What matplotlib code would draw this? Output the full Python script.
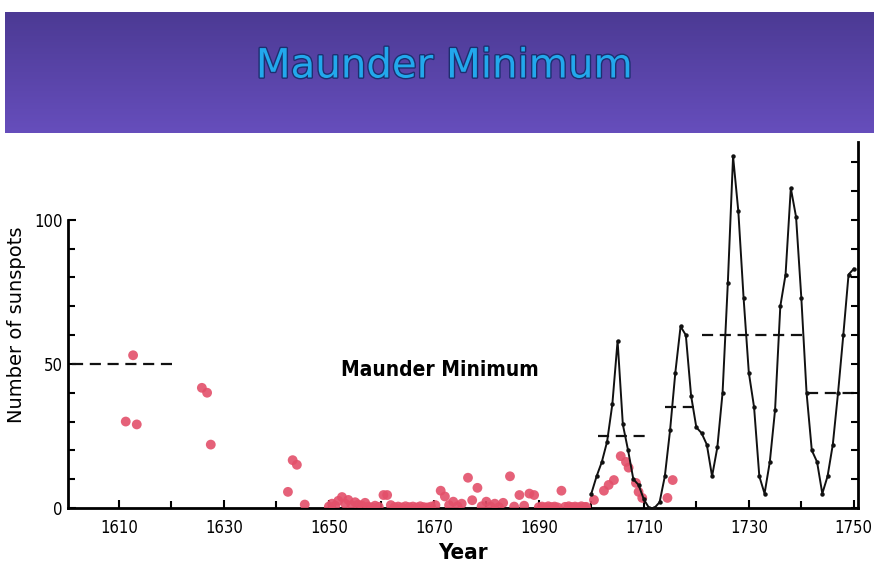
import numpy as np
import matplotlib
matplotlib.use('Agg')
import matplotlib.pyplot as plt
import matplotlib.patheffects as pe

# group sunspot numbers (red dots)
gsn_years = [1611.3, 1612.7, 1613.4, 1625.8, 1626.8, 1627.5, 1642.2, 1643.1, 1643.9, 1645.4,
             1650.0, 1650.6, 1651.2, 1651.8, 1652.5, 1653.1, 1653.7, 1654.3, 1655.0, 1655.6,
             1656.3, 1656.9, 1657.5, 1658.2, 1658.8, 1659.5, 1660.4, 1661.1, 1661.8, 1662.5,
             1663.2, 1663.9, 1664.6, 1665.3, 1666.0, 1666.7, 1667.4, 1668.1, 1668.8, 1669.5,
             1670.3, 1671.3, 1672.1, 1672.9, 1673.7, 1674.5, 1675.3, 1676.5, 1677.3, 1678.3,
             1679.1, 1680.0, 1680.8, 1681.6, 1682.4, 1683.2, 1684.5, 1685.3, 1686.3, 1687.2,
             1688.2, 1689.1, 1690.0, 1690.6, 1691.2, 1691.8, 1692.4, 1693.0, 1693.6, 1694.3,
             1695.0, 1695.7, 1696.3, 1696.9, 1697.5, 1698.1, 1698.7, 1699.0, 1700.5, 1702.4,
             1703.3, 1704.3, 1705.6, 1706.6, 1707.1, 1708.5, 1709.0, 1709.7, 1714.5, 1715.5]
gsn_values = [30, 53, 29, 41.7, 40, 22, 5.6, 16.6, 15, 1.2,
              0.5, 1.5, 0.8, 2.5, 3.8, 1.5, 2.8, 1.0, 2.0, 1.2,
              0.8, 1.8, 0.5, 0.2, 0.8, 0.4, 4.5, 4.5, 1.0, 0.3,
              0.5, 0.2, 0.6, 0.3, 0.5, 0.2, 0.6, 0.3, 0.2, 0.5,
              1.0, 6.0, 4.0, 1.0, 2.2, 0.6, 1.5, 10.5, 2.7, 7.0,
              0.6, 2.2, 0.5, 1.5, 0.3, 1.8, 11.0, 0.5, 4.5, 0.8,
              5.0, 4.5, 0.3, 0.5, 0.2, 0.6, 0.3, 0.5, 0.2, 6.0,
              0.4, 0.6, 0.3, 0.5, 0.2, 0.6, 0.3, 0.4, 2.8, 6.0,
              8.0, 9.7, 18.0, 16.0, 14.0, 8.7, 5.6, 3.5, 3.5, 9.7]

# annual sunspot numbers (black line)
wolf_years = list(range(1700, 1751))
wolf_values = [5, 11, 16, 23, 36, 58, 29, 20, 10, 8,
               3, 0, 0, 2, 11, 27, 47, 63, 60, 39,
               28, 26, 22, 11, 21, 40, 78, 122, 103, 73,
               47, 35, 11, 5, 16, 34, 70, 81, 111, 101,
               73, 40, 20, 16, 5, 11, 22, 40, 60, 81, 83]

# cycle averages (dashed segments)
avg_start = [1601.0, 1701.2, 1714.0, 1721.0, 1741.0]
avg_end = [1620.7, 1710.8, 1720.0, 1741.0, 1750.5]
avg_value = [50, 25, 35, 60, 40]

xtick_labels = [1610, 1630, 1650, 1670, 1690, 1710, 1730, 1750]
ytick_labels = [0, 50, 100]

narrow = dict(family='DejaVu Sans', fontstretch='condensed')

fig = plt.figure(figsize=(8.74, 5.85), dpi=100)

# banner
bax = fig.add_axes([5 / 874, 1 - 133 / 585, 1 - 5 / 874, 121 / 585])
grad = np.linspace(0, 1, 100).reshape(-1, 1)
top_col = np.array([0x4c, 0x3a, 0x94]) / 255
bot_col = np.array([0x66, 0x4e, 0xbc]) / 255
img = top_col + (bot_col - top_col) * grad[:, :, None]
bax.imshow(img, aspect='auto', extent=[0, 1, 0, 1], origin='upper')
bax.set_xlim(0, 1)
bax.set_ylim(0, 1)
bax.axis('off')
bax.text(0.505, 0.55, 'Maunder Minimum', ha='center', va='center', fontsize=29,
         color='#22a8ec', family='DejaVu Sans',
         path_effects=[pe.withStroke(linewidth=2.0, foreground='#1d2f70')])

# chart
ax = fig.add_axes([68 / 874, 77 / 585, 790 / 874, 366 / 585])
ax.scatter(gsn_years, gsn_values, s=50, color='#e3506a', edgecolors='none', alpha=0.9, zorder=3)
ax.plot(wolf_years, wolf_values, color='#111111', lw=1.4, marker='o', ms=2.2, zorder=4)
for x0, x1, v in zip(avg_start, avg_end, avg_value):
    ax.plot([x0, x1], [v, v], color='#111111', lw=1.6, ls=(0, (5, 3)), zorder=4)

ax.set_xlim(1600.3, 1750.8)
ax.set_ylim(0, 127)
ax.spines['top'].set_visible(False)
ax.spines['right'].set_visible(False)
ax.spines['left'].set_bounds(0, 100)
for s in ['left', 'bottom']:
    ax.spines[s].set_linewidth(2.0)
ax.set_xticks(np.arange(1610, 1751, 10), minor=True)
ax.set_xticks(xtick_labels)
ax.set_xticklabels([str(v) for v in xtick_labels], fontsize=12, **narrow)
ax.set_yticks(np.arange(0, 101, 10), minor=True)
ax.set_yticks(ytick_labels)
ax.set_yticklabels([str(v) for v in ytick_labels], fontsize=12, **narrow)
ax.tick_params(which='both', direction='in', width=1.5)
ax.tick_params(which='major', length=6)
ax.tick_params(which='minor', length=5)
ax.tick_params(axis='x', pad=8)
ax.tick_params(axis='y', pad=4)

# right spine goes to the top with ticks every 10
ax_r = ax.twinx()
ax_r.set_ylim(ax.get_ylim())
for s in ['top', 'left', 'bottom']:
    ax_r.spines[s].set_visible(False)
ax_r.spines['right'].set_linewidth(2.0)
ax_r.set_yticks(np.arange(0, 121, 10))
ax_r.tick_params(direction='in', width=1.5, length=5, labelright=False)

ax.set_xlabel('Year', fontsize=16, fontweight='bold', labelpad=4, **narrow)
ax.set_ylabel('Number of sunspots', fontsize=14, labelpad=6)
ax.text(1671.2, 48, 'Maunder Minimum', fontsize=15, fontweight='bold',
        ha='center', va='center', **narrow)

fig.savefig('out.png', dpi=100)
